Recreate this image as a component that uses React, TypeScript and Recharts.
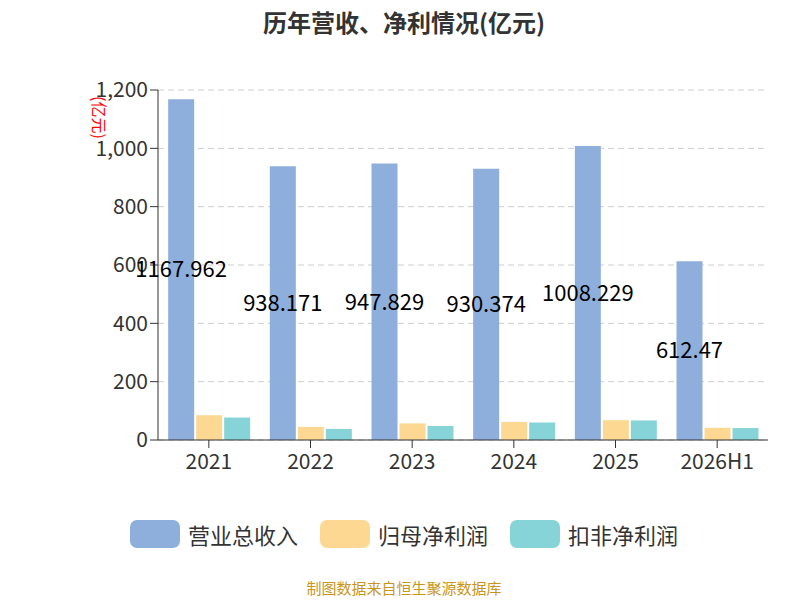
import React from 'react';
import { BarChart, Bar, XAxis, YAxis, CartesianGrid, LabelList } from 'recharts';

const categories = ['2021', '2022', '2023', '2024', '2025', '2026H1'];
const revenue = [1167.962, 938.171, 947.829, 930.374, 1008.229, 612.47];
const netProfit = [85, 45, 57, 62, 68, 42];
const deductedProfit = [77, 38, 48, 60, 67, 41];
const yTicks = [0, 200, 400, 600, 800, 1000, 1200];

const data = categories.map((c, i) => ({ name: c, rev: revenue[i], np: netProfit[i], dp: deductedProfit[i] }));

const font = '"Noto Sans CJK SC", "Noto Sans", sans-serif';
const legendItems = [['营业总收入', '#8eaedb'], ['归母净利润', '#fdd893'], ['扣非净利润', '#86d4d8']];

export default function App() {
  return (
    <div style={{ position: 'relative', width: 792, height: 592, fontFamily: font, background: '#fff', overflow: 'hidden' }}>
      <div style={{ position: 'absolute', top: -4, width: 792, textAlign: 'center', fontSize: 24, fontWeight: 'bold', color: '#333' }}>
        历年营收、净利情况(亿元)
      </div>
      <div style={{ position: 'absolute', left: 100, top: 88, transform: 'rotate(90deg)', transformOrigin: 'left top', fontSize: 16, color: 'red', lineHeight: '16px' }}>
        (亿元)
      </div>
      <BarChart width={792} height={472} data={data} margin={{ top: 82, right: 32, left: 0, bottom: 0 }}
        barCategoryGap="10%" barGap={2} style={{ position: 'absolute', top: 0, left: 0 }}>
        <CartesianGrid vertical={false} stroke="#ccc" strokeDasharray="6 4" />
        <XAxis dataKey="name" height={40} tick={{ fontSize: 21, fill: '#333' }} tickLine={{ stroke: '#333' }} axisLine={{ stroke: '#333' }} tickSize={8} tickMargin={6} />
        <YAxis ticks={yTicks} domain={[0, 1200]} width={150} tickFormatter={(v: number) => v.toLocaleString('en-US')}
          tick={{ fontSize: 21, fill: '#333' }} tickLine={{ stroke: '#333' }} axisLine={{ stroke: '#333' }} tickSize={8} />
        <Bar dataKey="rev" name="营业总收入" fill="#8eaedb" isAnimationActive={false}>
          <LabelList dataKey="rev" position="center" style={{ fontSize: 22, fill: '#000' }} />
        </Bar>
        <Bar dataKey="np" name="归母净利润" fill="#fdd893" isAnimationActive={false} />
        <Bar dataKey="dp" name="扣非净利润" fill="#86d4d8" isAnimationActive={false} />
      </BarChart>
      <div style={{ position: 'absolute', top: 510, width: 792, display: 'flex', justifyContent: 'center', gap: 22, fontSize: 22, color: '#333' }}>
        {legendItems.map(([t, c]) => (
          <div key={t} style={{ display: 'flex', alignItems: 'center', gap: 8 }}>
            <div style={{ width: 50, height: 28, borderRadius: 7, background: c }} />
            <span>{t}</span>
          </div>
        ))}
      </div>
      <div style={{ position: 'absolute', top: 570, width: 792, textAlign: 'center', fontSize: 15, lineHeight: '20px', color: '#c8961e' }}>
        制图数据来自恒生聚源数据库
      </div>
    </div>
  );
}
